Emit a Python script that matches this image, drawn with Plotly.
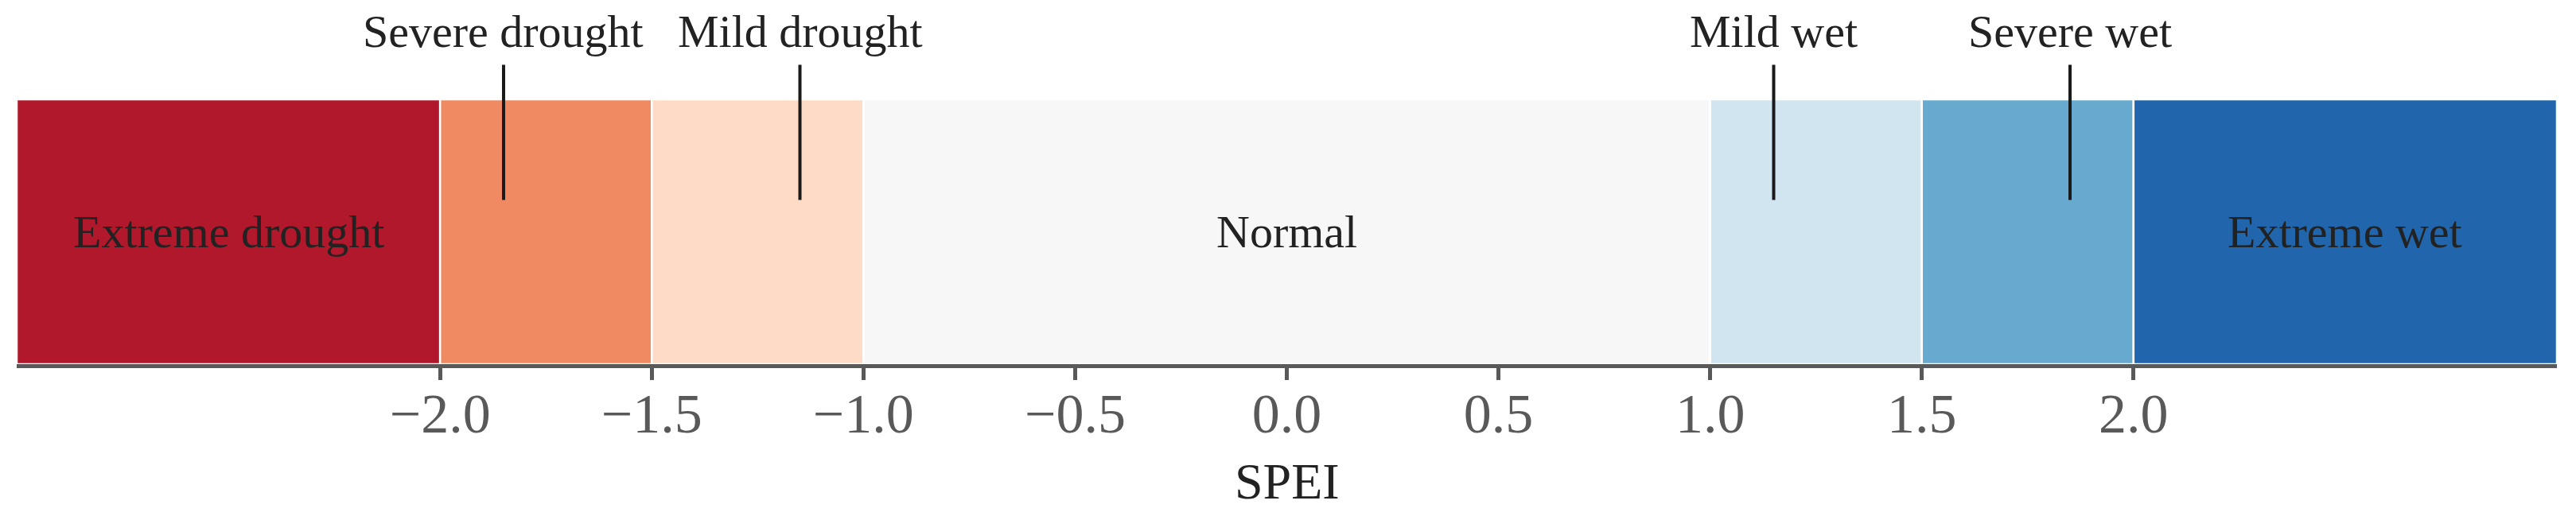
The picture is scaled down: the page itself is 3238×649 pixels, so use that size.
import plotly.graph_objects as go

# Categories and their SPEI bounds
categories = ["Extreme drought", "Severe drought", "Mild drought", "Normal",
              "Mild wet", "Severe wet", "Extreme wet"]
lower_bounds = [-3.0, -2.0, -1.5, -1.0, 1.0, 1.5, 2.0]
upper_bounds = [-2.0, -1.5, -1.0, 1.0, 1.5, 2.0, 3.0]
colors = ["#b2182b", "#ef8a62", "#fddbc7", "#f7f7f7", "#d1e5f0", "#67a9cf", "#2166ac"]

# Labels drawn inside the bar
inner_labels = ["Extreme drought", "Normal", "Extreme wet"]
inner_x = [-2.5, 0.0, 2.5]

# Labels above the bar with leader lines
outer_labels = ["Severe drought", "Mild drought", "Mild wet", "Severe wet"]
outer_x = [-1.85, -1.15, 1.15, 1.85]
leader_bottom = 0.62
leader_top = 1.13
label_y = 1.255

tick_vals = [-2.0, -1.5, -1.0, -0.5, 0.0, 0.5, 1.0, 1.5, 2.0]
tick_text = ["\u22122.0", "\u22121.5", "\u22121.0", "\u22120.5", "0.0", "0.5", "1.0", "1.5", "2.0"]
axis_title = "SPEI"

FONT = "Liberation Serif, Times New Roman, serif"

widths = [u - l for l, u in zip(lower_bounds, upper_bounds)]

fig = go.Figure()
fig.add_trace(go.Bar(
    y=[0.5] * len(categories),
    x=widths,
    base=lower_bounds,
    orientation="h",
    width=1.0,
    marker=dict(color=colors, line=dict(color="white", width=2.5)),
    hovertext=categories,
    showlegend=False,
))

for xv in outer_x:
    fig.add_trace(go.Scatter(
        x=[xv, xv], y=[leader_bottom, leader_top], mode="lines",
        line=dict(color="#1a1a1a", width=4), showlegend=False, hoverinfo="skip",
    ))

for lab, xv in zip(inner_labels, inner_x):
    fig.add_annotation(x=xv, y=0.5, text=lab, showarrow=False,
                       font=dict(family=FONT, size=58, color="#222222"),
                       xanchor="center", yanchor="middle")

for lab, xv in zip(outer_labels, outer_x):
    fig.add_annotation(x=xv, y=label_y, text=lab, showarrow=False,
                       font=dict(family=FONT, size=58, color="#222222"),
                       xanchor="center", yanchor="middle")

# axis title placed below the tick labels
fig.add_annotation(x=0.5, xref="paper", y=-0.34, yref="paper", text=axis_title,
                   showarrow=False, font=dict(family=FONT, size=64, color="#222222"),
                   xanchor="center", yanchor="middle")

fig.update_layout(
    width=3238, height=649,
    margin=dict(l=21, r=24, t=25, b=191, autoexpand=False),
    plot_bgcolor="white", paper_bgcolor="white",
    barmode="overlay",
    font=dict(family=FONT),
    xaxis=dict(
        range=[-3, 3], tickvals=tick_vals, ticktext=tick_text,
        showgrid=False, zeroline=False, automargin=False,
        showline=True, linecolor="#595959", linewidth=5,
        ticks="outside", ticklen=15, tickwidth=5, tickcolor="#595959",
        tickfont=dict(family=FONT, size=70, color="#595959"),
        ticklabelstandoff=-18,
    ),
    yaxis=dict(range=[0, 1.3], visible=False, showgrid=False, zeroline=False),
)

fig.write_html("out.html", config={"displayModeBar": False},
               post_script="document.body.style.margin='0';document.body.style.overflow='hidden';")
